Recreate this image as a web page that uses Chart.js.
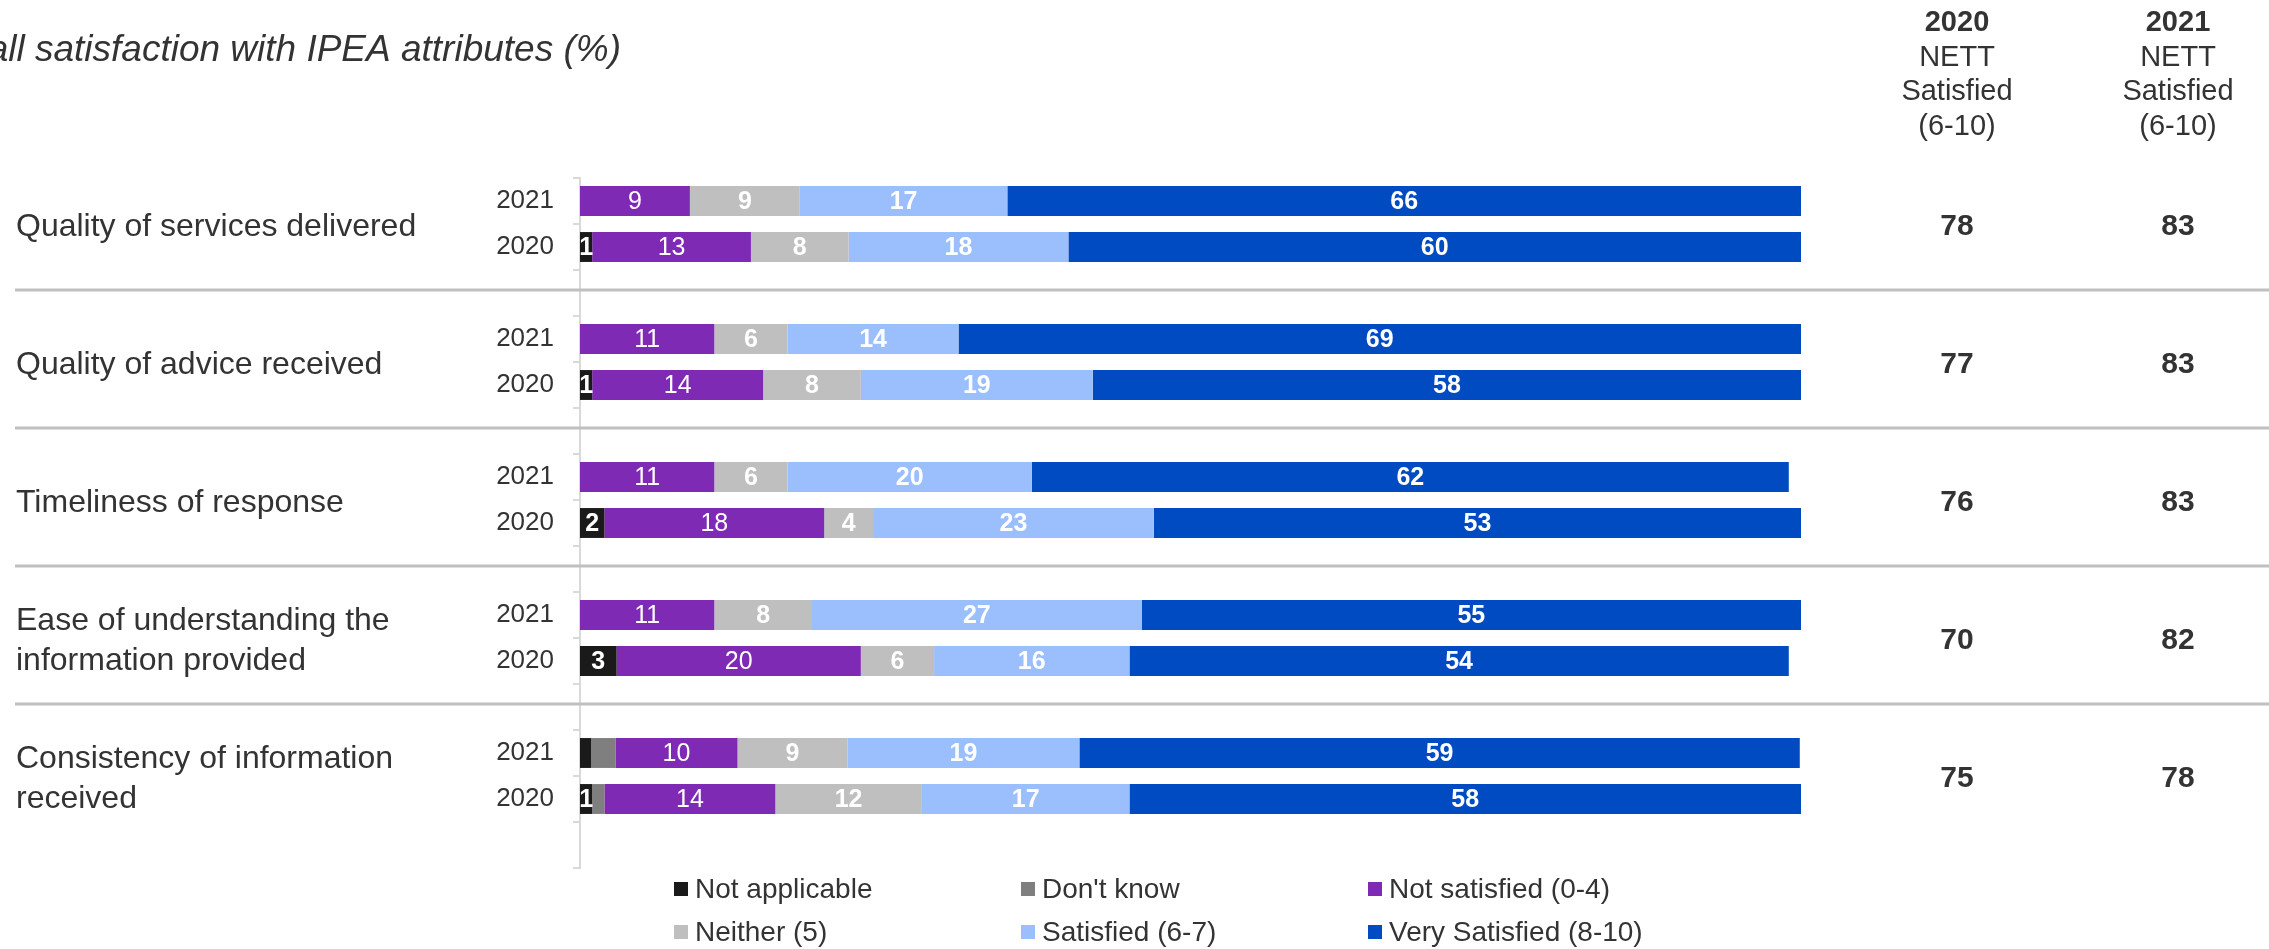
<!DOCTYPE html>
<html>
<head>
<meta charset="utf-8">
<title>Overall satisfaction with IPEA attributes</title>
<script src="https://cdn.jsdelivr.net/npm/chart.js@4"></script>
<style>
  html, body { margin: 0; padding: 0; background: #fff; }
  #wrap { width: 2269px; height: 949px; position: relative; }
</style>
</head>
<body>
<div id="wrap"><canvas id="satisfactionChart"></canvas></div>
<script>
const FONT = "'Liberation Sans', Arial, sans-serif";
const TEXT = '#333333';

// attribute names (split into display lines) and the two survey years per attribute
const attributes = [
    ['Quality of services delivered'],
    ['Quality of advice received'],
    ['Timeliness of response'],
    ['Ease of understanding the', 'information provided'],
    ['Consistency of information', 'received']
];
const years = ['2021', '2020'];

const seriesNames = ['Not applicable', "Don't know", 'Not satisfied (0-4)', 'Neither (5)', 'Satisfied (6-7)', 'Very Satisfied (8-10)'];
const seriesColors = ['#1a1a1a', '#7f7f7f', '#7f2ab5', '#bfbfbf', '#9abffc', '#004bc1'];

// values per attribute as [2021, 2020]
const notApplicable = [[0, 1], [0, 1], [0, 2], [0, 3], [0.9, 1]];
const dontKnow      = [[0, 0], [0, 0], [0, 0], [0, 0], [2, 1]];
const notSatisfied  = [[9, 13], [11, 14], [11, 18], [11, 20], [10, 14]];
const neither       = [[9, 8], [6, 8], [6, 4], [8, 6], [9, 12]];
const satisfied     = [[17, 18], [14, 19], [20, 23], [27, 16], [19, 17]];
const verySatisfied = [[66, 60], [69, 58], [62, 53], [55, 54], [59, 58]];

// NETT satisfied (6-10)
const nett2020 = [78, 77, 76, 70, 75];
const nett2021 = [83, 83, 83, 82, 78];

const seriesValues = [notApplicable, dontKnow, notSatisfied, neither, satisfied, verySatisfied];

// every attribute takes three rows: 2021, 2020 and an empty spacer row
const rowLabels = attributes.flatMap(() => [years[0], years[1], '']);
const toRows = (arr) => arr.flatMap(pair => [pair[0] || null, pair[1] || null, null]);

const datasets = seriesNames.map((name, i) => ({
    label: name,
    data: toRows(seriesValues[i]),
    backgroundColor: seriesColors[i],
    borderWidth: 0,
    barPercentage: 0.65,
    categoryPercentage: 1,
    showValues: i !== 1,
    valueWeight: i === 2 ? 'normal' : 'bold'
}));

function groupCenter(chart, k) {
    const y = chart.scales.y;
    return (y.getPixelForValue(k * 3) + y.getPixelForValue(k * 3 + 1)) / 2;
}

const decorations = {
    id: 'decorations',
    beforeDatasetsDraw(chart) {
        const ctx = chart.ctx;
        const y = chart.scales.y;
        ctx.save();
        // separators between attribute groups
        ctx.strokeStyle = '#c0c0c0';
        ctx.lineWidth = 3;
        for (let k = 0; k < attributes.length - 1; k++) {
            const py = Math.round(y.getPixelForValue(k * 3 + 2)) - 3;
            ctx.beginPath();
            ctx.moveTo(15, py);
            ctx.lineTo(chart.width, py);
            ctx.stroke();
        }
        ctx.restore();
    },
    afterDatasetsDraw(chart) {
        const ctx = chart.ctx;
        const area = chart.chartArea;
        ctx.save();

        // values inside the bar segments
        ctx.fillStyle = '#ffffff';
        ctx.textAlign = 'center';
        ctx.textBaseline = 'middle';
        chart.data.datasets.forEach((ds, di) => {
            if (!ds.showValues) return;
            ctx.font = ds.valueWeight + ' 25px ' + FONT;
            chart.getDatasetMeta(di).data.forEach((bar, idx) => {
                const v = ds.data[idx];
                if (v == null || v < 1) return;
                const p = bar.getProps(['x', 'y', 'base'], true);
                const right = Math.min(p.x, area.right);
                ctx.fillText(String(Math.round(v)), (p.base + right) / 2, p.y + 1);
            });
        });

        // title (its start runs past the left edge)
        ctx.fillStyle = TEXT;
        ctx.textAlign = 'right';
        ctx.font = 'italic 37px ' + FONT;
        ctx.fillText('Overall satisfaction with IPEA attributes (%)', 621, 51);

        // attribute names
        ctx.textAlign = 'left';
        ctx.font = '32px ' + FONT;
        attributes.forEach((lines, k) => {
            const cy = groupCenter(chart, k) + 3;
            const lh = 40;
            lines.forEach((line, j) => {
                ctx.fillText(line, 16, cy + (j - (lines.length - 1) / 2) * lh);
            });
        });

        // NETT columns
        const cols = [{ x: 1957, year: '2020', vals: nett2020 }, { x: 2178, year: '2021', vals: nett2021 }];
        ctx.textAlign = 'center';
        cols.forEach(col => {
            ctx.font = 'bold 29px ' + FONT;
            ctx.fillText(col.year, col.x, 23);
            ctx.font = '29px ' + FONT;
            ctx.fillText('NETT', col.x, 58);
            ctx.fillText('Satisfied', col.x, 92);
            ctx.fillText('(6-10)', col.x, 127);
            ctx.font = 'bold 30px ' + FONT;
            col.vals.forEach((v, k) => ctx.fillText(String(v), col.x, groupCenter(chart, k) + 3));
        });

        // legend, two rows of three
        ctx.textAlign = 'left';
        ctx.font = '28px ' + FONT;
        chart.data.datasets.forEach((ds, i) => {
            const lx = 674 + (i % 3) * 347;
            const ly = i < 3 ? 889 : 932;
            ctx.fillStyle = ds.backgroundColor;
            ctx.fillRect(lx, ly - 7, 14, 14);
            ctx.fillStyle = TEXT;
            ctx.fillText(ds.label, lx + 21, ly + 1);
        });

        ctx.restore();
    }
};

new Chart(document.getElementById('satisfactionChart'), {
    type: 'bar',
    data: { labels: rowLabels, datasets: datasets },
    plugins: [decorations],
    options: {
        indexAxis: 'y',
        responsive: true,
        maintainAspectRatio: false,
        animation: false,
        layout: { padding: { left: 0, top: 178, right: 468, bottom: 81 } },
        plugins: {
            legend: { display: false },
            title: { display: false },
            tooltip: { enabled: false }
        },
        scales: {
            x: {
                stacked: true,
                display: false,
                min: 0,
                max: 100
            },
            y: {
                stacked: true,
                afterFit(scale) { scale.width = 580; },
                grid: {
                    drawOnChartArea: false,
                    drawTicks: true,
                    tickLength: 7,
                    offset: true,
                    color: '#d9d9d9',
                    lineWidth: 2
                },
                border: { color: '#d9d9d9', width: 2 },
                ticks: {
                    color: TEXT,
                    padding: 19,
                    font: { family: FONT, size: 26 }
                }
            }
        }
    }
});
</script>
</body>
</html>
